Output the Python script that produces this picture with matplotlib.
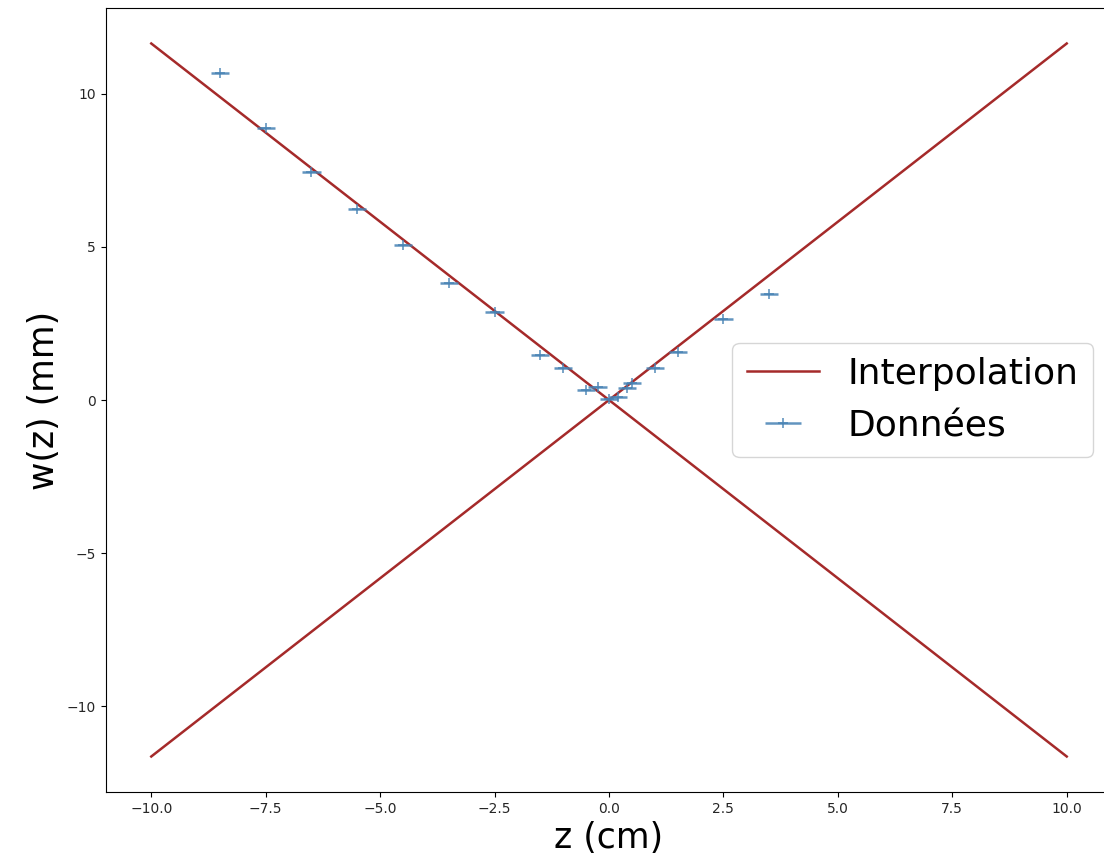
import numpy as np
import matplotlib
matplotlib.use("Agg")
import matplotlib.pyplot as plt

#%% data
z_data = [-8.5, -7.5, -6.5, -5.5, -4.5, -3.5, -2.5, -1.5, -1.0, -0.5, -0.25,
          0.0, 0.2, 0.4, 0.5, 1.0, 1.5, 2.5, 3.5]
w_data = [10.68, 8.89, 7.46, 6.25, 5.05, 3.81, 2.87, 1.47, 1.04, 0.34, 0.44,
          0.03, 0.1, 0.4, 0.55, 1.04, 1.56, 2.64, 3.45]
z_err = 0.2

z_fit = np.array([-10.0, 10.0])
pente = 1.165

#%% plot
W, H, DPI = 1104, 865, 100
fig = plt.figure(figsize=(W / DPI, H / DPI), dpi=DPI)
ax = fig.add_axes([105.5 / W, 1 - 792 / H, 1007 / W, 784 / H])

ax.plot(z_fit, pente * z_fit, color='brown', lw=1.8, label='Interpolation')
ax.plot(z_fit, -pente * z_fit, color='brown', lw=1.8)
ax.errorbar(z_data, w_data, xerr=z_err, fmt='+', color='steelblue', alpha=0.85,
            elinewidth=1.8, markersize=7, mew=1.2, label='Données')

ax.set_xlim(-11, 11)
ax.set_ylim(-12.81, 12.81)
ax.set_xlabel('z (cm)', fontsize=25)
ax.set_ylabel('w(z) (mm)', fontsize=25)
ax.tick_params(labelsize=10, labelcolor='#262626')
ax.legend(fontsize=26, loc='center right', bbox_to_anchor=(0.981, 0.5),
          borderaxespad=0)

fig.savefig('out.png', dpi=DPI)
